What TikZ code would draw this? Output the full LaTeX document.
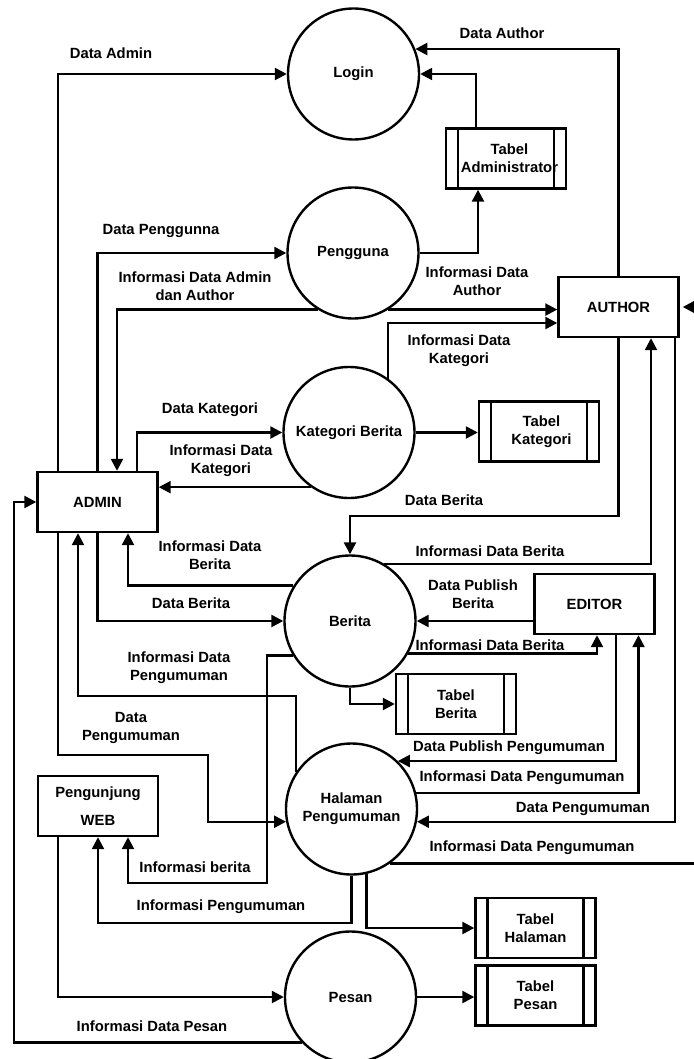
\documentclass[tikz,border=0pt]{standalone}
\usepackage{fontspec}
\setmainfont{Liberation Sans}
\usetikzlibrary{arrows.meta,calc}
\begin{document}
\begin{tikzpicture}[x=1pt,y=-1pt,line width=2.4pt,
  font=\fontsize{14.8}{18}\selectfont\bfseries,
  proc/.style={circle,draw,minimum size=131pt,inner sep=0pt,align=center},
  ent/.style={rectangle,draw,minimum width=120pt,minimum height=60pt,inner sep=0pt,align=center},
  store/.style={rectangle,draw,minimum width=120pt,minimum height=60pt,inner sep=0pt,align=center,
    path picture={\draw ([xshift=12pt]path picture bounding box.north west) -- ([xshift=12pt]path picture bounding box.south west);
      \draw ([xshift=-12pt]path picture bounding box.north east) -- ([xshift=-12pt]path picture bounding box.south east);}},
  flow/.style={-{Triangle[length=12pt,width=12pt]},line join=miter},
  lbl/.style={align=center,inner sep=0pt}]
\fill[white] (0,0) rectangle (693,1059);
\useasboundingbox (0,0) rectangle (693,1059);

% processes
\node[proc] (Login) at (353.5,74) {Login};
\node[proc] (Pengguna) at (353,253) {Pengguna};
\node[proc] (Kategori) at (349,432.5) {Kategori Berita};
\node[proc] (Berita) at (350,621) {Berita};
\node[proc] (Halaman) at (351.5,809) {Halaman\\Pengumuman};
\node[proc] (Pesan) at (350.5,997) {Pesan};

% entities
\node[ent] (AUTHOR) at (618.5,307) {AUTHOR};
\node[ent] (ADMIN) at (97.5,502) {ADMIN};
\node[ent] (EDITOR) at (594.5,604) {EDITOR};
\node[ent] (WEB) at (98,806) {Pengunjung\\[10pt]WEB};

% stores
\node[store] (TAdm) at (506,158.5) {\hspace*{7pt}Tabel\\\hspace*{7pt}Administrator};
\node[store] (TKat) at (539,431.5) {\hspace*{5pt}Tabel\\\hspace*{5pt}Kategori};
\node[store] (TBer) at (456,704) {Tabel\\Berita};
\node[store] (THal) at (535.5,928) {Tabel\\Halaman};
\node[store] (TPes) at (535.5,995.5) {Tabel\\Pesan};

% helper coordinates
\coordinate (c19) at (0,696);
\coordinate (c20) at (208,755);
\coordinate (c21) at (267,883);
\coordinate (c22) at (0,923);
\coordinate (c27) at (705,863);
\coordinate (c28) at (14,0);

% connectors
\draw[flow] ([xshift=-39.5pt]ADMIN.north) |- (Login.west);
\draw[flow] (ADMIN.north) |- (Pengguna.west);
\draw[flow] (Pengguna.238) -| ([xshift=19.5pt]ADMIN.north);
\draw[flow] ([xshift=39.5pt]ADMIN.north) |- (Kategori.west);
\draw[flow] (Kategori.235) -- (ADMIN.east |- Kategori.235);
\draw[flow] (Pengguna.east) -| ([xshift=-28pt]TAdm.south);
\draw[flow] ([xshift=-30pt]TAdm.north) |- (Login.east);
\draw[flow] (AUTHOR.north) |- (Login.22);
\draw[flow] (Pengguna.-58) -- (AUTHOR.west |- Pengguna.-58);
\draw[flow] (Kategori.54.5) |- ([yshift=-16pt]AUTHOR.west);
\draw[flow] (Kategori.east) -- (TKat.west |- Kategori.east);
\draw[flow] (AUTHOR.south) -- ++(0,178) -| (Berita.north);
\draw[flow] (Berita.59) -| ([xshift=32.5pt]AUTHOR.south);
\draw[flow] ([yshift=-17pt]EDITOR.west) -- (Berita.east);
\draw[flow] (Berita.-29) -| ([xshift=2.5pt]EDITOR.south);
\draw[flow] (Berita.south) |- (TBer.west);
\draw[flow] (Berita.148) -| ([xshift=30.5pt]ADMIN.south);
\draw[flow] (ADMIN.south) |- (Berita.west);
\draw[flow] (Halaman.146) -- (Halaman.146 |- c19) -| ([xshift=-19.5pt]ADMIN.south);
\draw[flow] ([xshift=-39.5pt]ADMIN.south) |- (c20) -- (c20 |- Halaman.191) -- (Halaman.191);
\draw[flow] (Berita.211) -| (c21) -| ([xshift=30pt]WEB.south);
\draw[flow] (Halaman.south) -- (Halaman.south |- c22) -- (WEB.south |- c22) -- (WEB.south);
\draw[flow] (Halaman.-77) |- (THal.west);
\draw[flow] ([xshift=21.5pt]EDITOR.south) |- (Halaman.46);
\draw[flow] (Halaman.14) -| ([xshift=44pt]EDITOR.south);
\draw[flow] ([xshift=56.5pt]AUTHOR.south) |- (Halaman.-11);
\draw[flow] (Halaman.-55.5) -- (c27 |- Halaman.-55.5) |- ([xshift=3pt]AUTHOR.east);
\draw[flow] (Pesan.223) -- (c28 |- Pesan.223) |- (ADMIN.west);
\draw[flow] ([xshift=-40pt]WEB.south) |- (Pesan.west);
\draw[flow] (Pesan.east) -- (TPes.west |- Pesan.east);

% labels
\node[lbl] (l1) at (111,53) {Data Admin};
\node[lbl] (l2) at (502,33) {Data Author};
\node[lbl] (l3) at (161,231) {Data Penggunna};
\node[lbl] (l4) at (195,286) {Informasi Data Admin\\dan Author};
\node[lbl] (l5) at (477,281) {Informasi Data\\Author};
\node[lbl] (l6) at (459,351) {Informasi Data\\Kategori};
\node[lbl] (l7) at (210,410) {Data Kategori};
\node[lbl] (l8) at (221,461) {Informasi Data\\Kategori};
\node[lbl] (l9) at (444,500) {Data Berita};
\node[lbl] (l10) at (490,551) {Informasi Data Berita};
\node[lbl] (l11) at (473,594) {Data Publish\\Berita};
\node[lbl] (l12) at (490,645) {Informasi Data Berita};
\node[lbl] (l13) at (210,555) {Informasi Data\\Berita};
\node[lbl] (l14) at (191,603) {Data Berita};
\node[lbl] (l15) at (179,668) {Informasi Data\\Pengumuman};
\node[lbl] (l16) at (131,728) {Data\\Pengumuman};
\node[lbl] (l17) at (509,748) {Data Publish Pengumuman};
\node[lbl] (l18) at (522,778) {Informasi Data Pengumuman};
\node[lbl] (l19) at (583,809) {Data Pengumuman};
\node[lbl] (l20) at (532,848) {Informasi Data Pengumuman};
\node[lbl] (l21) at (195,867) {Informasi berita};
\node[lbl] (l22) at (221,907) {Informasi Pengumuman};
\node[lbl] (l23) at (152,1026) {Informasi Data Pesan};
\end{tikzpicture}
\end{document}
